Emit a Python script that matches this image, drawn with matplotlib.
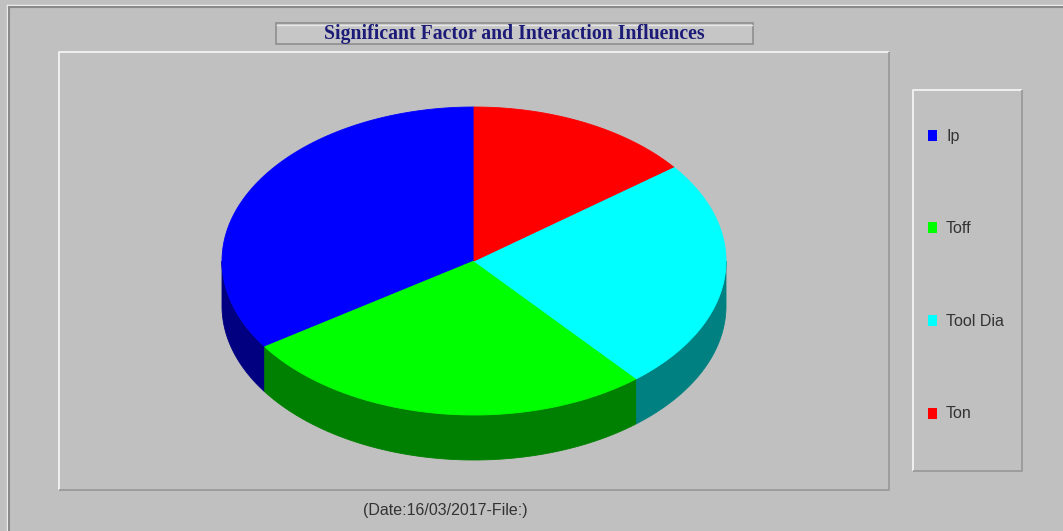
import numpy as np
import matplotlib
matplotlib.use('Agg')
import matplotlib.pyplot as plt
from matplotlib.patches import Polygon, Rectangle

# slice shares, counter-clockwise from 12 o'clock
labels = ['Ip', 'Toff', 'Tool Dia', 'Ton']
values = [34.4, 26.75, 24.3, 14.55]
top_colors = ['#0000ff', '#00ff00', '#00ffff', '#ff0000']
side_colors = ['#000080', '#008000', '#008080', '#800000']
title = 'Significant Factor and Interaction Influences'
footer = '(Date:16/03/2017-File:)'

W, H = 1063, 531
fig = plt.figure(figsize=(W / 100, H / 100), dpi=100)
fig.patch.set_facecolor('#c0c0c0')
ax = fig.add_axes([0, 0, 1, 1])
ax.set_xlim(0, W)
ax.set_ylim(H, 0)
ax.axis('off')


def bevel(x0, y0, x1, y1, light='#f4f4f4', dark='#9a9a9a', lw=1.3):
    ax.plot([x0, x0, x1], [y1, y0, y0], color=light, lw=lw, solid_capstyle='butt')
    ax.plot([x0, x1, x1], [y1, y1, y0], color=dark, lw=lw, solid_capstyle='butt')


# outer window frame
ax.plot([7, 7], [H, 5], color='#f0f0f0', lw=1)
ax.plot([7, W], [5, 5], color='#f0f0f0', lw=1)
ax.plot([8.5, 8.5], [H, 6.5], color='#8a8a8a', lw=1.5)
ax.plot([8.5, W], [6.5, 6.5], color='#8a8a8a', lw=1.5)

# plot area and legend panels
bevel(59, 52, 889, 490)
bevel(913, 90, 1022, 471)

# title box
ax.add_patch(Rectangle((276, 23), 477, 21, facecolor='#c6c6c6',
                       edgecolor='#8e8e8e', lw=1.2))
ax.plot([277, 752], [24.5, 24.5], color='#e6e6e6', lw=1)
ax.text(514.5, 34, title, ha='center', va='center', color='#1c1c78',
        fontsize=14.2, fontweight='bold', family='Liberation Serif')

# 3D pie
cx, cy, rx, ry, depth = 474, 261, 252, 154, 45
fracs = np.array(values) / np.sum(values)
bounds = 90 + 360 * np.concatenate([[0], np.cumsum(fracs)])


def rim(t):
    r = np.radians(t)
    return cx + rx * np.cos(r), cy - ry * np.sin(r)


# side walls (front half only)
for i in range(len(values)):
    lo, hi = max(bounds[i], 180), min(bounds[i + 1], 360)
    if lo >= hi:
        continue
    t = np.linspace(lo, hi, 200)
    x, y = rim(t)
    pts = np.column_stack([np.concatenate([x, x[::-1]]),
                           np.concatenate([y, y[::-1] + depth])])
    ax.add_patch(Polygon(pts, closed=True, facecolor=side_colors[i],
                         edgecolor=side_colors[i], lw=0.6))

# top faces
for i in range(len(values)):
    t = np.linspace(bounds[i], bounds[i + 1], 300)
    x, y = rim(t)
    pts = np.column_stack([np.concatenate([[cx], x]), np.concatenate([[cy], y])])
    ax.add_patch(Polygon(pts, closed=True, facecolor=top_colors[i],
                         edgecolor=top_colors[i], lw=0.6))

# legend entries
legend_y = np.linspace(135, 413, len(labels))
for lab, col, ly in zip(labels, top_colors, legend_y):
    ax.add_patch(Rectangle((927.5, ly - 5.5), 9, 11, facecolor=col, edgecolor='none'))
    ax.text(946, ly + 1, lab, ha='left', va='center', color='#333333',
            fontsize=11.5, family='Liberation Sans')

ax.text(445, 510, footer, ha='center', va='center', color='#333333',
        fontsize=11.5, family='Liberation Sans')

fig.savefig('out.png', dpi=100, facecolor=fig.get_facecolor())
